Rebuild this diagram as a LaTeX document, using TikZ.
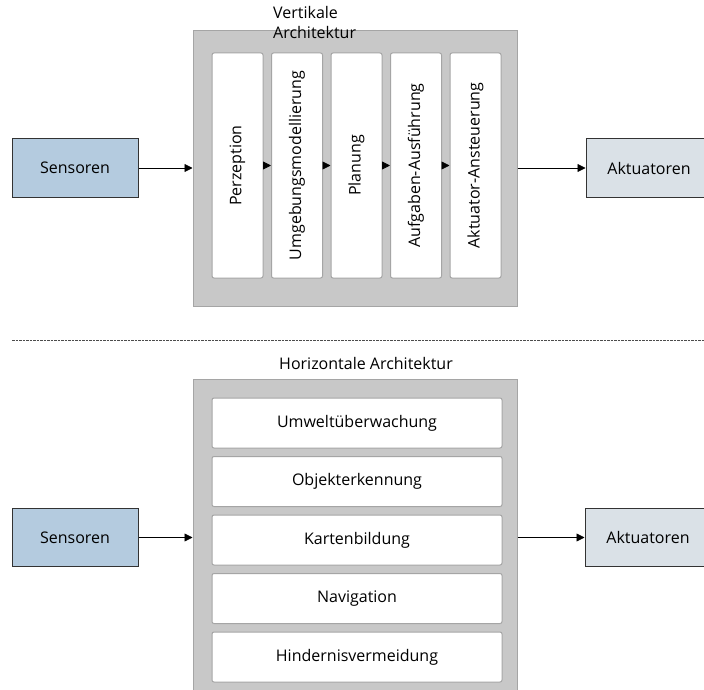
\documentclass[tikz,border=0pt]{standalone}
\usepackage{fontspec}
\setmainfont{Open Sans}
\definecolor{colsensor}{RGB}{180,203,223}
\definecolor{colactor}{RGB}{218,225,231}
\definecolor{colframe}{RGB}{200,200,200}
\definecolor{colframeline}{RGB}{165,165,165}
\usetikzlibrary{
	arrows.meta,
	positioning
}
\tikzset{
	>={Triangle[length=8pt, width=8pt]},
	archframe/.style={draw=colframeline, fill=colframe, line width=1pt},
	layernode/.style={draw=colframeline, fill=white, rounded corners=2pt, line width=1pt},
	ionode/.style={draw=black!80, line width=1pt, minimum width=126pt, minimum height=58pt},
	flow/.style={->, line width=0.8pt}
}

\begin{document}
\begin{tikzpicture}[x=1pt, y=-1pt, font=\fontsize{16}{20}\selectfont]
	\useasboundingbox (0,0) rectangle (704,690);
	\clip (0,0) rectangle (704,690);
	% vertikale Architektur
	\node[archframe, minimum width=324pt, minimum height=275pt] (vert) at (355,168.5) {};
	\node[anchor=north west, align=left, inner sep=0pt] (verttitle) at (273,6) {Vertikale\\Architektur};
	\foreach \name/\txt [count=\i from 0] in {perz/Perzeption,umg/Umgebungsmodellierung,plan/Planung,aufg/Aufgaben-Ausführung,akt/Aktuator-Ansteuerung} {
		\node[layernode, minimum width=51pt, minimum height=225pt] (\name) at (237.5+59.5*\i,165.5) {\rotatebox{90}{\txt}};
	}
	\foreach \a/\b in {perz/umg,umg/plan,plan/aufg,aufg/akt} {
		\draw[flow] (\a) -- (\b);
	}
	\node[ionode, fill=colsensor] (sensvert) at (75,168) {Sensoren};
	\node[ionode, fill=colactor] (aktvert) at (649,168) {Aktuatoren};
	\draw[flow] (sensvert.east) -- (sensvert.east -| vert.west);
	\draw[flow] (aktvert.west -| vert.east) -- (aktvert.west);
	% Trennlinie
	\coordinate (sepleft) at (12,340);
	\coordinate (sepright) at (704,340);
	\draw[black!70, dash pattern=on 2.5pt off 1pt, line width=0.7pt] (sepleft) -- (sepright);
	% horizontale Architektur
	\node[archframe, minimum width=324pt, minimum height=330pt] (horz) at (355,544) {};
	\node (horztitle) at (366,363) {Horizontale Architektur};
	\foreach \name/\txt [count=\i from 0] in {umw/Umweltüberwachung,obj/Objekterkennung,kart/Kartenbildung,navi/Navigation,hind/Hindernisvermeidung} {
		\node[layernode, minimum width=290pt, minimum height=50pt] (\name) at (357,423+58.5*\i) {\txt};
	}
	\node[ionode, fill=colsensor] (senshorz) at (75,537.5) {Sensoren};
	\node[ionode, fill=colactor] (akthorz) at (648,537.5) {Aktuatoren};
	\draw[flow] (senshorz.east) -- (senshorz.east -| horz.west);
	\draw[flow] (akthorz.west -| horz.east) -- (akthorz.west);
\end{tikzpicture}
\end{document}
